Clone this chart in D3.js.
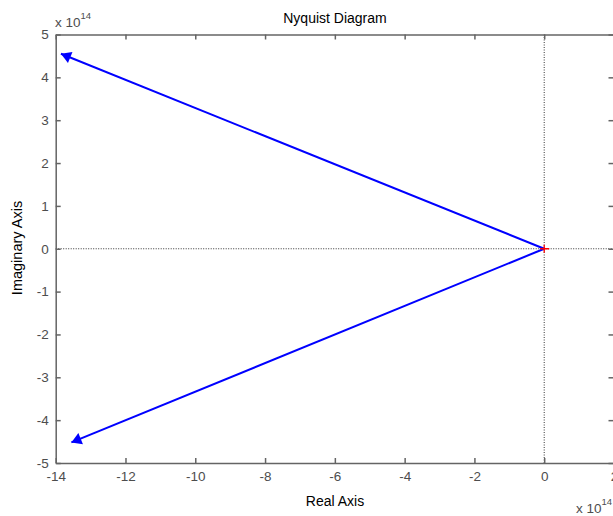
<!DOCTYPE html>
<html><head><meta charset="utf-8">
<script src="https://cdn.jsdelivr.net/npm/d3@7"></script>
<style>body{margin:0;background:#fff;} svg{display:block;font-family:"Liberation Sans",Arial,sans-serif;}</style>
</head><body>
<svg id="c" width="613" height="516"></svg>
<script>
// values in units of 1e14
const xTicks = [-14,-12,-10,-8,-6,-4,-2,0,2];
const yTicks = [-5,-4,-3,-2,-1,0,1,2,3,4,5];
const upperRe = [-13.85, 0];
const upperIm = [4.55, 0];
const lowerRe = [0, -13.55];
const lowerIm = [0, -4.52];
const critical = [0, 0];

const svg = d3.select("#c");
const L=55.7, R=614, T=34.5, B=463;
const x = d3.scaleLinear().domain([-14,2]).range([L,R]);
const y = d3.scaleLinear().domain([-5,5]).range([B,T]);
const axCol = "#646464";

// dotted zero lines
svg.append("line").attr("x1",x(0)).attr("x2",x(0)).attr("y1",T).attr("y2",B)
  .attr("stroke","#000").attr("stroke-width",0.8).attr("stroke-dasharray","1,1.5");
svg.append("line").attr("x1",L).attr("x2",R).attr("y1",y(0)).attr("y2",y(0))
  .attr("stroke","#000").attr("stroke-width",0.8).attr("stroke-dasharray","1,1.5");

// axes
const fmt = d => d<0 ? "-"+Math.abs(d) : String(d);
const gB = svg.append("g").attr("transform",`translate(0,${B})`)
  .call(d3.axisBottom(x).tickValues(xTicks).tickSizeInner(-5).tickSizeOuter(0).tickPadding(8).tickFormat(fmt));
const gT = svg.append("g").attr("transform",`translate(0,${T})`)
  .call(d3.axisTop(x).tickValues(xTicks).tickSizeInner(-5).tickSizeOuter(0).tickFormat(""));
const gL = svg.append("g").attr("transform",`translate(${L},0)`)
  .call(d3.axisLeft(y).tickValues(yTicks).tickSizeInner(-5).tickSizeOuter(0).tickPadding(7).tickFormat(fmt));
const gR = svg.append("g").attr("transform",`translate(${R-0.5},0)`)
  .call(d3.axisRight(y).tickValues(yTicks).tickSizeInner(-5).tickSizeOuter(0).tickFormat(""));
[gB,gT,gL,gR].forEach(g=>{
  g.selectAll("path,line").attr("stroke",axCol).attr("stroke-width",1.5);
  g.selectAll("text").attr("fill","#4d4d4d").style("font-size","13.5px").style("font-family","'Liberation Sans',Arial,sans-serif");
});

// curves
const line = d3.line().x(d=>x(d[0])).y(d=>y(d[1]));
const up = upperRe.map((v,i)=>[v,upperIm[i]]);
const lo = lowerRe.map((v,i)=>[v,lowerIm[i]]);
[up,lo].forEach(p=>svg.append("path").attr("d",line(p)).attr("fill","none").attr("stroke","#0000ff").attr("stroke-width",2));

// arrowheads at far ends, pointing away from origin
function arrow(tip, from){
  const tx=x(tip[0]), ty=y(tip[1]), fx=x(from[0]), fy=y(from[1]);
  const a=Math.atan2(ty-fy, tx-fx);
  const len=10, w=6;
  const bx=tx-len*Math.cos(a), by=ty-len*Math.sin(a);
  const px=-Math.sin(a)*w, py=Math.cos(a)*w;
  svg.append("path").attr("d",`M${tx},${ty}L${bx+px},${by+py}L${bx-px},${by-py}Z`).attr("fill","#0000ff");
}
arrow(up[0], up[1]);
arrow(lo[1], lo[0]);

// critical point
const cx=x(critical[0]), cy=y(critical[1]);
svg.append("path").attr("d",`M${cx-4},${cy}H${cx+5}M${cx},${cy-4}V${cy+4}`).attr("stroke","#ff0000").attr("stroke-width",1.3);

// texts
svg.append("text").attr("x",335).attr("y",23).attr("text-anchor","middle").style("font-size","14px").attr("fill","#000").text("Nyquist Diagram");
svg.append("text").attr("x",335).attr("y",506).attr("text-anchor","middle").style("font-size","14px").attr("fill","#000").text("Real Axis");
svg.append("text").attr("transform","translate(22,248) rotate(-90)").attr("text-anchor","middle").style("font-size","14.5px").attr("fill","#000").text("Imaginary Axis");
const e1 = svg.append("text").attr("x",55).attr("y",27).style("font-size","13.5px").attr("fill","#4d4d4d");
e1.append("tspan").text("x 10");
e1.append("tspan").attr("dy",-8).style("font-size","9.5px").text("14");
const e2 = svg.append("text").attr("x",576).attr("y",513).style("font-size","13.5px").attr("fill","#4d4d4d");
e2.append("tspan").text("x 10");
e2.append("tspan").attr("dy",-8).style("font-size","9.5px").text("14");
</script>
</body></html>
